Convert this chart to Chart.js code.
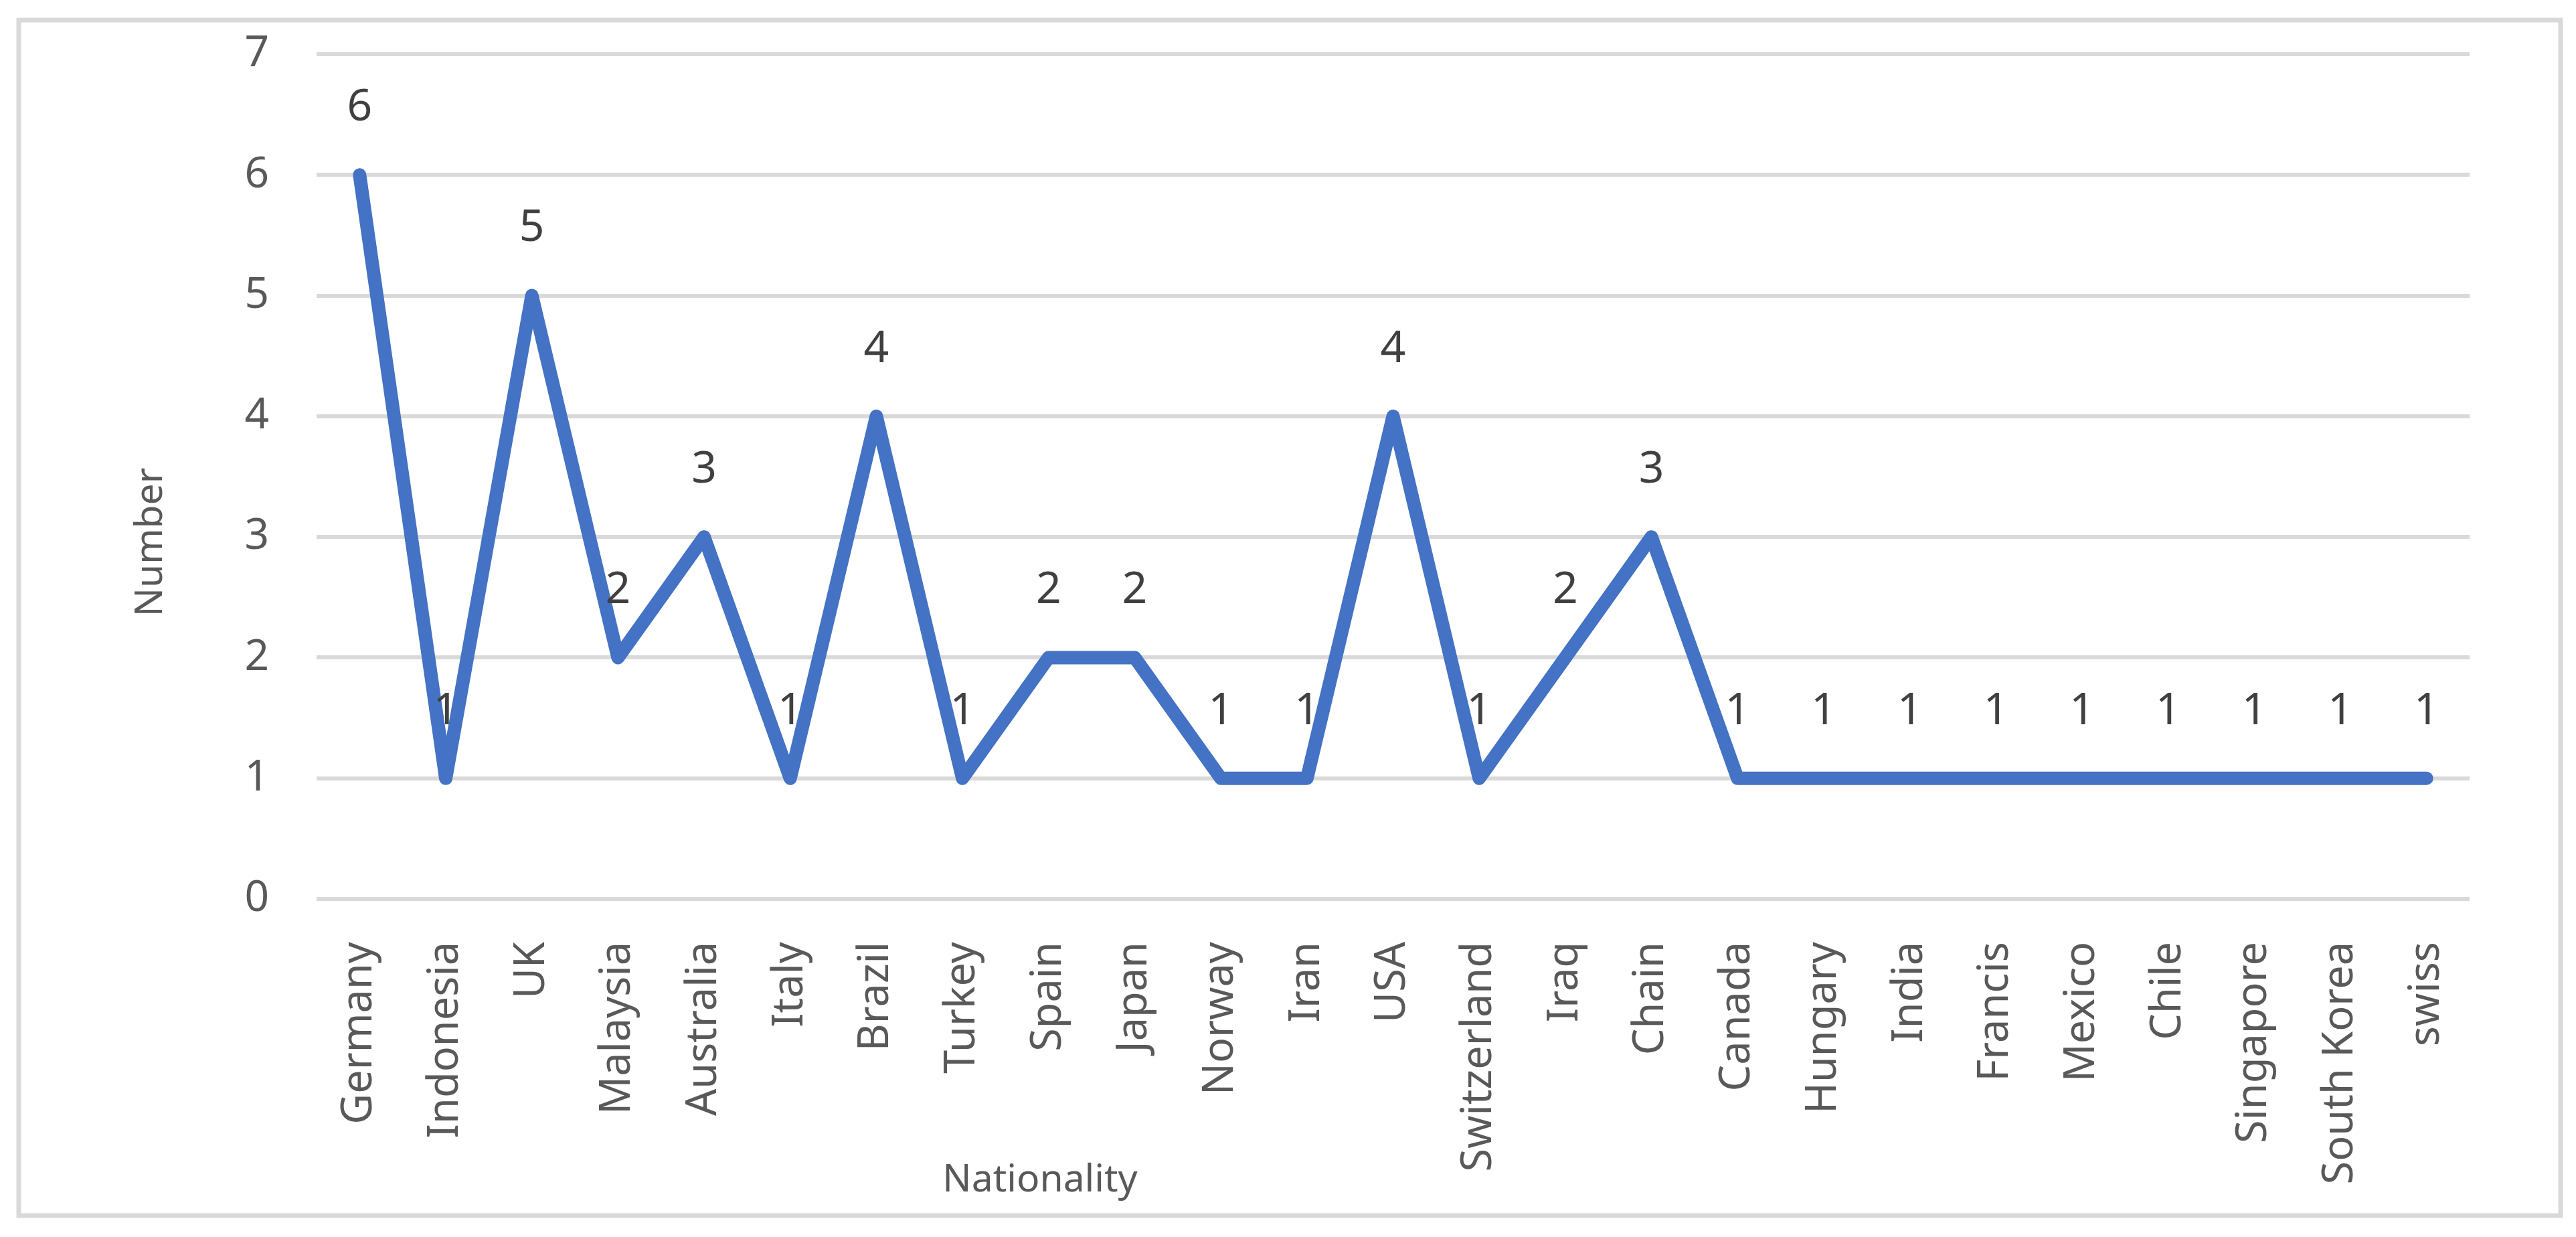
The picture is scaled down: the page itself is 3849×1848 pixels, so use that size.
<!DOCTYPE html>
<html>
<head>
<meta charset="utf-8">
<script src="https://cdn.jsdelivr.net/npm/chart.js@4"></script>
<style>
  html, body { margin: 0; padding: 0; background: #ffffff; }
  #wrap { width: 3849px; height: 1848px; position: relative; }
</style>
</head>
<body>
<div id="wrap"><canvas id="c" width="3849" height="1848"></canvas></div>
<script>
const categories = ["Germany", "Indonesia", "UK", "Malaysia", "Australia", "Italy", "Brazil", "Turkey", "Spain", "Japan", "Norway", "Iran", "USA", "Switzerland", "Iraq", "Chain", "Canada", "Hungary", "India", "Francis", "Mexico", "Chile", "Singapore", "South Korea", "swiss"];
const counts = [6, 1, 5, 2, 3, 1, 4, 1, 2, 2, 1, 1, 4, 1, 2, 3, 1, 1, 1, 1, 1, 1, 1, 1, 1];
const yTicks = [0, 1, 2, 3, 4, 5, 6, 7];
const xTitle = "Nationality";
const yTitle = "Number";

const FONT = "'Noto Sans', 'Open Sans', sans-serif";

const frame = {
  id: 'frame',
  beforeDraw(chart) {
    const ctx = chart.ctx;
    ctx.save();
    ctx.fillStyle = '#ffffff';
    ctx.fillRect(0, 0, chart.width, chart.height);
    ctx.strokeStyle = '#d9d9d9';
    ctx.lineWidth = 7;
    ctx.strokeRect(28, 30, 3826 - 28, 1816 - 30);
    ctx.restore();
  }
};

const labelsPlugin = {
  id: 'pointLabels',
  afterDatasetsDraw(chart) {
    const ctx = chart.ctx;
    const meta = chart.getDatasetMeta(0);
    const data = chart.data.datasets[0].data;
    ctx.save();
    ctx.fillStyle = '#404040';
    ctx.font = "66px " + FONT;
    ctx.textAlign = 'center';
    ctx.textBaseline = 'middle';
    meta.data.forEach((pt, i) => {
      ctx.fillText(String(data[i]), pt.x, pt.y - 100);
    });
    ctx.restore();
  },
  afterDraw(chart) {
    const ctx = chart.ctx;
    ctx.save();
    ctx.fillStyle = '#595959';
    ctx.font = "57px " + FONT;
    ctx.textAlign = 'center';
    ctx.textBaseline = 'middle';
    ctx.fillText(xTitle, 1554, 1764);
    ctx.translate(226, 810);
    ctx.rotate(-Math.PI / 2);
    ctx.fillText(yTitle, 0, 0);
    ctx.restore();
  }
};

new Chart(document.getElementById('c'), {
  type: 'line',
  data: {
    labels: categories,
    datasets: [{
      data: counts,
      borderColor: '#4472C4',
      backgroundColor: '#4472C4',
      borderWidth: 20,
      pointRadius: 0,
      pointHoverRadius: 0,
      tension: 0,
      fill: false,
      borderCapStyle: 'round',
      borderJoinStyle: 'round'
    }]
  },
  options: {
    responsive: false,
    animation: false,
    events: [],
    layout: { autoPadding: false, padding: { top: 81, right: 159, bottom: 0, left: 0 } },
    plugins: {
      legend: { display: false },
      tooltip: { enabled: false },
      title: { display: false }
    },
    scales: {
      x: {
        type: 'category',
        offset: true,
        grid: { display: false, drawTicks: false },
        border: { display: false },
        ticks: {
          autoSkip: false,
          minRotation: 90,
          maxRotation: 90,
          padding: 64,
          color: '#595959',
          font: { family: FONT, size: 63 }
        },
        afterFit(scale) { scale.height = 1848 - 1343; }
      },
      y: {
        min: yTicks[0],
        max: yTicks[yTicks.length - 1],
        grid: { color: '#d9d9d9', lineWidth: 6, drawTicks: true, tickLength: 71, tickColor: 'rgba(0,0,0,0)' },
        border: { display: false },
        afterBuildTicks(scale) { scale.ticks = yTicks.map(v => ({ value: v })); },
        ticks: {
          padding: 0,
          color: '#595959',
          font: { family: FONT, size: 64 }
        },
        afterFit(scale) { scale.width = 473; }
      }
    }
  },
  plugins: [frame, labelsPlugin]
});
</script>
</body>
</html>
